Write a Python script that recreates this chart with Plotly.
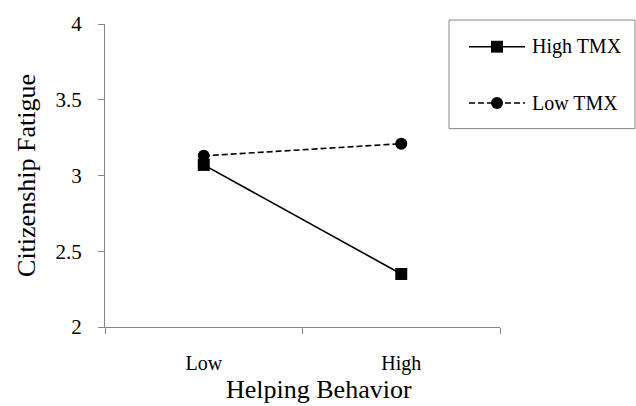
import plotly.graph_objects as go

# Simple-slopes interaction plot
helping_levels = ["Low", "High"]
high_tmx = [3.07, 2.35]
low_tmx = [3.13, 3.21]
y_ticks = [2, 2.5, 3, 3.5, 4]
y_tick_text = ["2", "2.5", "3", "3.5", "4"]
series_names = ["High TMX", "Low TMX"]

serif = "Liberation Serif, Times New Roman, serif"
axis_color = "#868686"
x_pos = list(range(len(helping_levels)))

W, H = 636, 406
M = dict(l=105, r=136, t=20, b=79)
plot_w = W - M["l"] - M["r"]
plot_h = H - M["t"] - M["b"]


def px_x(px):
    return (px - M["l"]) / plot_w


def px_y(py):
    return (H - M["b"] - py) / plot_h


dash_pattern = "6px,3px"
styles = [
    dict(dash="solid", symbol="square"),
    dict(dash=dash_pattern, symbol="circle"),
]

fig = go.Figure()
for name, vals, st in zip(series_names, [high_tmx, low_tmx], styles):
    fig.add_trace(go.Scatter(
        x=x_pos, y=vals, name=name, mode="lines+markers",
        line=dict(color="black", width=1.6, dash=st["dash"]),
        marker=dict(symbol=st["symbol"], size=12, color="black"),
        showlegend=False,
    ))

# Key box drawn beside the plot area
shapes = [dict(type="rect", xref="paper", yref="paper",
               x0=px_x(449), x1=px_x(635), y0=px_y(126), y1=px_y(16),
               line=dict(color=axis_color, width=1), fillcolor="white")]
annotations = []
for i, (name, st) in enumerate(zip(series_names, styles)):
    cy = 43 + i * 57
    shapes.append(dict(type="line", xref="paper", yref="paper",
                       x0=px_x(469), x1=px_x(525), y0=px_y(cy), y1=px_y(cy),
                       line=dict(color="black", width=1.6, dash=st["dash"])))
    s = 6
    shapes.append(dict(type="rect" if st["symbol"] == "square" else "circle",
                       xref="paper", yref="paper",
                       x0=px_x(497 - s), x1=px_x(497 + s),
                       y0=px_y(cy + s), y1=px_y(cy - s),
                       line=dict(color="black", width=0), fillcolor="black"))
    annotations.append(dict(xref="paper", yref="paper", x=px_x(530), y=px_y(cy),
                            xanchor="left", yanchor="middle", showarrow=False,
                            text=name, font=dict(size=20, family=serif, color="black")))

# x-axis title, set slightly right of the plot centre
annotations.append(dict(xref="paper", yref="paper", x=px_x(319), y=px_y(390),
                        xanchor="center", yanchor="middle", showarrow=False,
                        text="Helping Behavior",
                        font=dict(size=26, family=serif, color="black")))

fig.update_layout(
    width=W, height=H,
    margin=M,
    plot_bgcolor="white", paper_bgcolor="white",
    font=dict(family=serif, color="black"),
    showlegend=False,
    shapes=shapes,
    annotations=annotations,
    xaxis=dict(
        range=[-0.5, 1.5],
        tickvals=x_pos, ticktext=helping_levels, ticks="",
        tickfont=dict(size=20), ticklabelstandoff=18,
        showline=True, linecolor=axis_color, linewidth=1,
        showgrid=False, zeroline=False,
        minor=dict(tickvals=[-0.5, 0.5, 1.5], ticks="outside",
                   ticklen=6, tickcolor=axis_color, showgrid=False),
    ),
    yaxis=dict(
        range=[2, 4], tickvals=y_ticks, ticktext=y_tick_text,
        ticks="outside", ticklen=6, tickcolor=axis_color,
        tickfont=dict(size=21), ticklabelstandoff=12,
        showline=True, linecolor=axis_color, linewidth=1,
        showgrid=False, zeroline=False,
        title=dict(text="Citizenship Fatigue", font=dict(size=26), standoff=12),
    ),
)

fig.write_html("out.html")
